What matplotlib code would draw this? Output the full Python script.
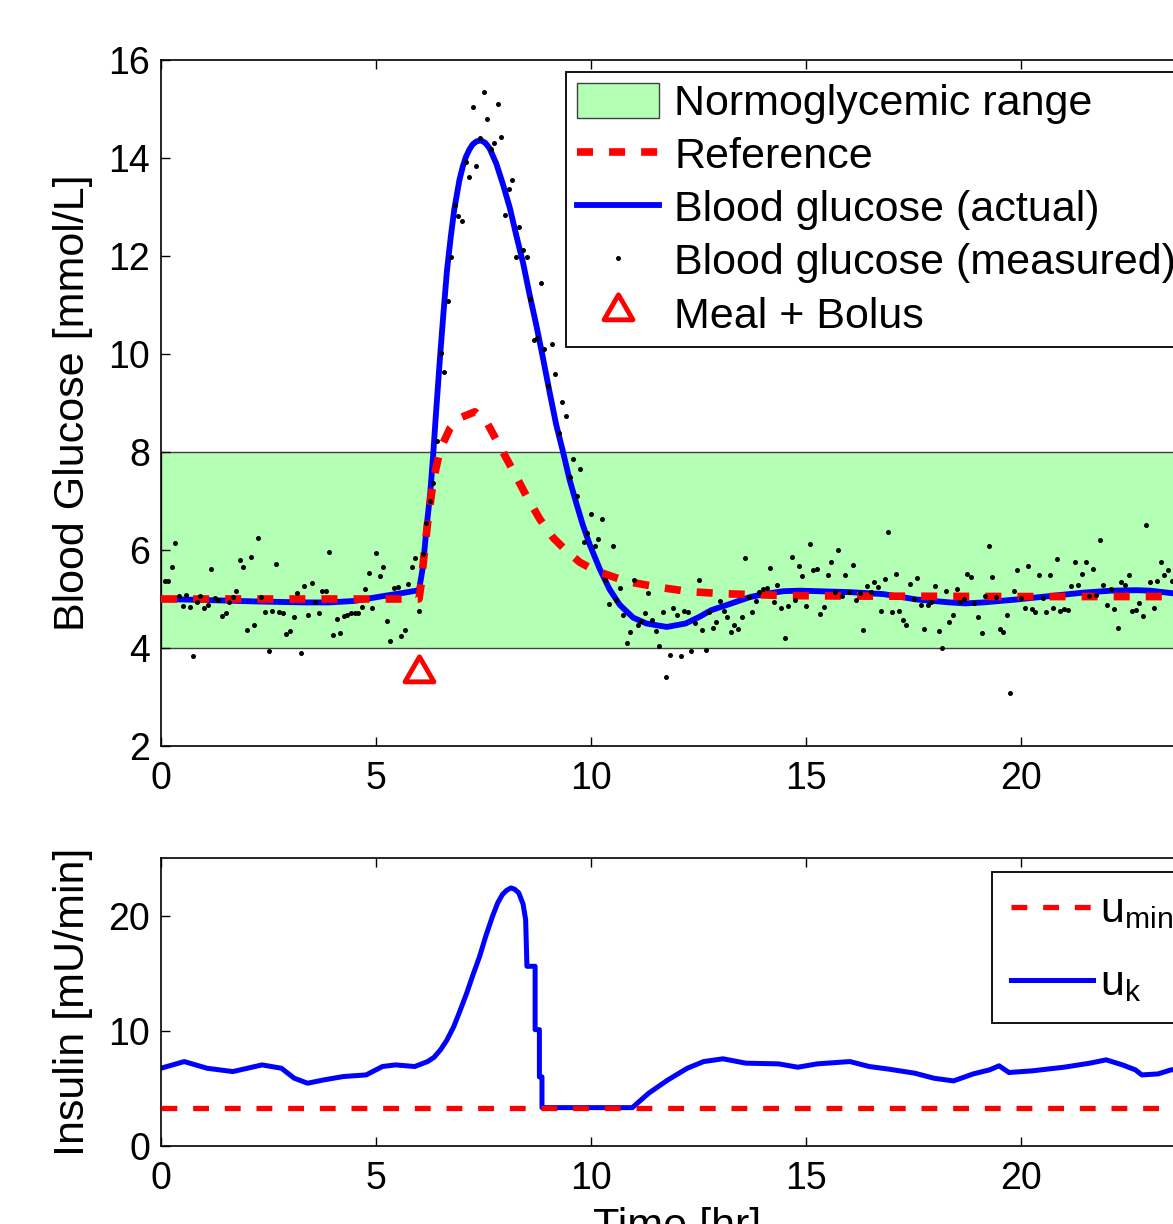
import numpy as np
import matplotlib
matplotlib.use('Agg')
import matplotlib.pyplot as plt
from matplotlib.patches import Patch
from matplotlib.lines import Line2D
from matplotlib.path import Path

plt.rcParams['font.family'] = ['Liberation Sans', 'DejaVu Sans']
plt.rcParams['mathtext.fontset'] = 'custom'
plt.rcParams['mathtext.rm'] = 'Liberation Sans'
plt.rcParams['mathtext.default'] = 'rm'

# --- data -------------------------------------------------------------
sample_period_hr = 5.0 / 60.0          # CGM sampling every 5 min
normo_low, normo_high = 4.0, 8.0       # normoglycemic band (mmol/L)
meal_time, meal_marker_level = 6.0, 3.5
u_min = 3.33                           # lower insulin bound (mU/min)

# CGM readings (mmol/L), one per sample period starting at 5 min
glucose_measured = [
    5.37, 5.36, 5.65, 6.15, 5.07, 4.86, 5.08, 4.84, 3.84, 4.94,
    5.07, 4.82, 4.88, 5.61, 5.03, 4.98, 4.65, 4.71, 4.93, 5.04,
    5.17, 5.80, 5.65, 4.37, 5.85, 4.46, 6.24, 5.04, 4.73, 3.93,
    4.76, 5.72, 4.73, 4.71, 4.28, 4.35, 4.64, 5.12, 3.89, 5.27,
    4.68, 5.33, 4.93, 4.71, 5.17, 5.17, 5.95, 4.27, 4.59, 4.31,
    4.65, 4.68, 4.72, 4.72, 4.71, 4.84, 5.20, 5.54, 4.82, 5.93,
    5.46, 5.65, 4.56, 4.14, 5.23, 5.25, 4.25, 4.37, 5.30, 5.66,
    5.83,
    4.76, 5.92, 6.55, 7.01, 7.36, 8.23, 10.03, 9.64, 11.09, 11.97,
    13.05, 12.82, 12.71, 13.91, 13.62, 15.04, 13.84, 14.40, 15.34, 14.80,
    14.18, 14.30, 15.11, 14.42, 12.84, 13.37, 13.55, 11.97, 12.60, 12.12,
    11.98, 11.12, 10.28, 10.32, 11.45, 10.10, 9.35, 10.21, 9.60, 8.39,
    9.03, 8.73, 7.49, 7.86, 7.11, 7.66, 6.16, 6.35, 6.74, 6.08,
    6.23, 6.63, 5.38, 4.90, 6.08, 4.97, 5.23, 4.68, 4.11, 4.33,
    5.38, 4.46, 4.56, 4.72, 5.12, 4.58,
    4.34, 4.04, 4.74, 3.40, 3.86, 4.82, 4.68, 3.84, 4.76, 4.74,
    3.94, 4.52, 5.38, 4.36, 3.96, 4.74, 4.41, 4.54, 4.96, 4.76,
    4.63, 4.33, 4.46, 4.39, 4.63, 5.84, 5.05, 4.73, 4.96, 5.15,
    5.20, 5.23, 5.63, 4.93, 5.29, 4.81, 4.20, 4.85, 5.86, 4.97,
    5.67, 5.46, 4.85, 6.12, 5.60, 5.61, 4.70, 4.84, 5.48, 5.76,
    5.14, 6.01, 5.07, 5.50, 5.14, 5.69, 4.97,
    5.12, 4.37, 5.27, 5.15, 5.35, 5.25, 4.75, 5.40, 6.37, 4.73,
    5.52, 4.75, 4.58, 4.46, 5.30, 5.01, 5.43, 4.88, 4.39, 4.87,
    4.93, 5.26, 4.34, 4.01, 5.16, 4.54, 4.67, 5.20, 4.93, 4.99,
    5.51, 5.44, 4.91, 4.64, 4.31, 5.07, 6.08, 5.44, 5.04, 4.39,
    4.33, 4.68, 3.08, 5.17, 5.59, 5.03, 4.82, 5.68, 4.79, 4.73,
    5.49, 5.03, 4.73, 5.48, 4.82, 5.81, 4.76, 4.79, 4.78, 5.27,
    5.76, 5.29, 5.51, 5.76, 5.07, 5.61, 5.08, 6.20, 5.28, 4.88,
    5.21, 4.80, 4.40, 5.34, 5.29, 5.50, 4.76, 4.78, 4.92, 4.66,
    6.51, 5.35, 4.82, 5.36, 5.76, 5.48, 5.60, 5.37,
]

# true blood glucose (mmol/L)
bg_time = [0, 1.0, 2.2, 3.35, 3.9, 4.5, 5.1, 5.6, 6.0, 6.09, 6.18, 6.26,
           6.33, 6.4, 6.49, 6.57, 6.65, 6.74, 6.82, 6.94, 7.02, 7.09, 7.17,
           7.25, 7.34, 7.44, 7.54, 7.64, 7.8, 7.95, 8.11, 8.26, 8.42, 8.57,
           8.73, 8.88, 9.04, 9.19, 9.35, 9.5, 9.66, 9.81, 9.97, 10.2, 10.43,
           10.67, 10.98, 11.29, 11.76, 12.2, 12.53, 12.79, 13.3, 13.7, 14.09,
           14.48, 14.86, 15.25, 15.63, 16.02, 16.8, 17.57, 18.35, 18.7,
           19.12, 19.9, 20.67, 21.45, 22.1, 22.7, 23.0, 23.5, 24.0]
bg_actual = [5.00, 4.98, 4.95, 4.93, 4.93, 4.96, 5.05, 5.12, 5.18, 5.65, 6.5,
             7.15, 7.95, 8.85, 9.95, 10.85, 11.7, 12.4, 12.95, 13.55, 13.83,
             14.02, 14.17, 14.28, 14.34, 14.36, 14.31, 14.2, 13.88, 13.47,
             12.99, 12.43, 11.86, 11.22, 10.58, 9.93, 9.21, 8.56, 8.0, 7.44,
             6.95, 6.51, 6.11, 5.62, 5.2, 4.88, 4.62, 4.5, 4.43, 4.5, 4.64,
             4.77, 4.92, 5.04, 5.11, 5.16, 5.17, 5.16, 5.15, 5.14, 5.10, 4.99,
             4.93, 4.91, 4.93, 4.99, 5.06, 5.13, 5.17, 5.18, 5.17, 5.12, 5.08]

# glucose reference trajectory (mmol/L)
ref_time = [0, 6.0, 6.05, 6.1, 6.2, 6.33, 6.49, 6.72, 6.96, 7.3, 7.58, 7.89,
            8.2, 8.5, 8.81, 9.12, 9.43, 9.74, 10.05, 10.36, 10.82, 11.57, 12.3,
            13.04, 13.77, 14.55, 16.0, 20.0, 24.0]
ref_glucose = [5.0, 5.0, 5.3, 5.75, 6.55, 7.4, 8.05, 8.48, 8.7, 8.82, 8.6,
               8.1, 7.6, 7.1, 6.63, 6.25, 5.98, 5.75, 5.6, 5.5, 5.36, 5.24,
               5.15, 5.11, 5.09, 5.07, 5.06, 5.05, 5.05]

# insulin infusion rate u_k (mU/min)
ins_time = [0, 0.54, 1.07, 1.67, 2.35, 2.8, 3.1, 3.41, 3.79, 4.24, 4.77, 5.15,
            5.45, 5.9, 6.2, 6.35, 6.5, 6.65, 6.81, 6.95, 7.11, 7.25, 7.41,
            7.56, 7.71, 7.83, 7.94, 8.04, 8.14, 8.22, 8.32, 8.42, 8.48, 8.51,
            8.70, 8.70, 8.80, 8.80, 8.86, 8.86, 10.96, 11.34, 11.79, 12.24,
            12.62, 13.07, 13.6, 14.36, 14.81, 15.26, 16.02, 16.47, 16.93,
            17.53, 17.98, 18.43, 18.89, 19.27, 19.49, 19.72, 20.25, 21.0,
            21.6, 21.98, 22.36, 22.66, 22.81, 23.19, 23.49, 24.0]
ins_rate = [6.75, 7.33, 6.75, 6.46, 7.04, 6.75, 5.88, 5.45, 5.74, 6.03, 6.17,
            6.9, 7.04, 6.9, 7.33, 7.7, 8.35, 9.2, 10.38, 11.7, 13.28, 14.8,
            16.46, 18.3, 19.94, 21.1, 21.83, 22.2, 22.4, 22.3, 21.97, 21.0,
            19.65, 15.6, 15.6, 10.1, 10.1, 6.0, 6.0, 3.33, 3.33, 4.58, 5.74,
            6.75, 7.33, 7.57, 7.19, 7.13, 6.84, 7.13, 7.33, 6.9, 6.67, 6.32,
            5.88, 5.65, 6.26, 6.61, 6.96, 6.38, 6.52, 6.84, 7.19, 7.48, 7.04,
            6.61, 6.17, 6.26, 6.61, 6.7]

meas_time = (np.arange(len(glucose_measured)) + 1) * sample_period_hr

# --- figure ------------------------------------------------------------
W, H = 1173, 1224
fig = plt.figure(figsize=(W / 100, H / 100), dpi=100)
ax1 = fig.add_axes([161 / W, (H - 746) / H, 1032 / W, 686 / H])
ax2 = fig.add_axes([161 / W, (H - 1146) / H, 1032 / W, 288 / H])

green = (0.7, 1.0, 0.7)
tri = Path([(-0.866, -0.5), (0.866, -0.5), (0.0, 1.0), (-0.866, -0.5)],
           closed=True)
tri_ms = 24
fs_tick = 27
fs_text = 31
dot_ms = 3.6

ax1.axhspan(normo_low, normo_high, facecolor=green, edgecolor='0.25',
            lw=1.0, zorder=0)
ax1.plot(bg_time, bg_actual, color='blue', lw=4.2, zorder=2)
ax1.plot(ref_time, ref_glucose, color='red', lw=5.5,
         linestyle=(0, (2.1, 2.1)), zorder=3)
ax1.plot(meas_time, glucose_measured, 'o', color='k', ms=dot_ms, mew=0,
         zorder=4)
ax1.plot([meal_time], [meal_marker_level], marker=tri, ms=tri_ms, mfc='none',
         mec='red', mew=3.5, ls='none', zorder=5)

ax1.set_xlim(0, 24)
ax1.set_ylim(2, 16)
ax1.set_xticks([0, 5, 10, 15, 20])
ax1.set_yticks(np.arange(2, 17, 2))
ax1.set_ylabel('Blood Glucose [mmol/L]', fontsize=fs_text)

handles1 = [
    Patch(facecolor=green, edgecolor='0.25', lw=1.0),
    Line2D([], [], color='red', lw=5.5, linestyle=(0, (2.1, 2.1))),
    Line2D([], [], color='blue', lw=4.2),
    Line2D([], [], marker='o', color='k', ms=dot_ms, mew=0, ls='none'),
    Line2D([], [], marker=tri, ms=tri_ms, mfc='none', mec='red', mew=3.5,
           ls='none'),
]
labels1 = ['Normoglycemic range', 'Reference', 'Blood glucose (actual)',
           'Blood glucose (measured)', 'Meal + Bolus']
leg1 = ax1.legend(handles1, labels1, loc='upper left',
                  bbox_to_anchor=(566 / W, 1 - 72 / H),
                  bbox_transform=fig.transFigure, fontsize=fs_text,
                  handlelength=1.9, handleheight=0.88, handletextpad=0.36,
                  labelspacing=0.27, borderpad=0.25, borderaxespad=0,
                  fancybox=False, framealpha=1, edgecolor='k')
leg1.get_frame().set_linewidth(1.3)

ax2.plot(ins_time, ins_rate, color='blue', lw=3.6, zorder=2)
ax2.axhline(u_min, color='red', lw=3.8, linestyle=(0, (3, 3)), zorder=3)
ax2.set_xlim(0, 24)
ax2.set_ylim(0, 25)
ax2.set_xticks([0, 5, 10, 15, 20])
ax2.set_yticks([0, 10, 20])
ax2.set_ylabel('Insulin [mU/min]', fontsize=fs_text)
ax2.set_xlabel('Time [hr]', fontsize=fs_text, labelpad=7)

handles2 = [Line2D([], [], color='red', lw=3.8, linestyle=(0, (3, 3))),
            Line2D([], [], color='blue', lw=3.6)]
leg2 = ax2.legend(handles2, [r'u$_{\mathrm{min}}$', r'u$_{\mathrm{k}}$'],
                  loc='upper left', bbox_to_anchor=(992 / W, 1 - 872 / H),
                  bbox_transform=fig.transFigure, fontsize=fs_text,
                  handlelength=1.9, handletextpad=0.15, labelspacing=0.75,
                  borderpad=0.45, borderaxespad=0, fancybox=False,
                  framealpha=1, edgecolor='k')
leg2.get_frame().set_linewidth(1.3)

for ax in (ax1, ax2):
    ax.tick_params(direction='in', top=True, right=True, length=6.5,
                   width=1.0, labelsize=fs_tick)
    ax.tick_params(axis='x', pad=11)
    ax.tick_params(axis='y', pad=8)
    for sp in ax.spines.values():
        sp.set_linewidth(1.2)
    ax.yaxis.set_label_coords(-0.066, 0.5)

fig.savefig('out.png', dpi=100)
